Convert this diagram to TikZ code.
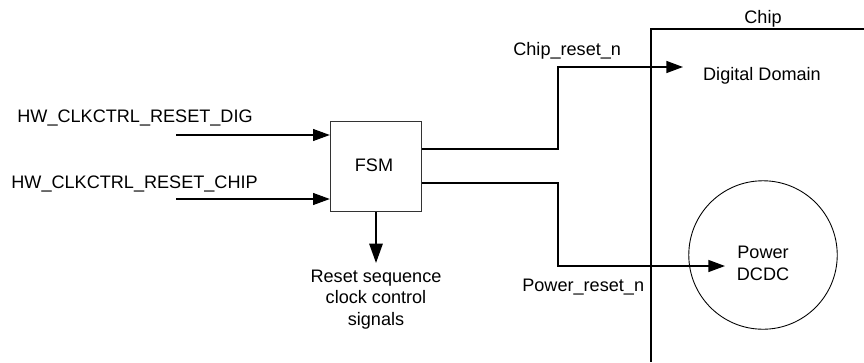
\documentclass[tikz,border=0pt]{standalone}
\usepackage{fontspec}
\setmainfont{Liberation Sans}
\usetikzlibrary{calc,arrows.meta,positioning}
\definecolor{ink}{HTML}{000000}
\definecolor{edge}{HTML}{333333}
\tikzset{
  wire/.style={draw=ink, line width=0.6pt},
  bus/.style={draw=ink, line width=1.0pt},
  tip/.style={-{Triangle[length=9.5pt,width=6.8pt]}},
  tipbig/.style={-{Triangle[length=11pt,width=7.6pt]}},
  blk/.style={draw=edge, line width=0.6pt, minimum width=52pt, minimum height=51.6pt, inner sep=0pt},
  ring/.style={circle, draw=ink, line width=0.5pt, minimum size=84.5pt, inner sep=0pt},
  lab/.style={font=\fontsize{10.3}{12.2}\selectfont, inner sep=0pt},
}
\begin{document}
\begin{tikzpicture}[x=0.02cm,y=-0.02cm]
  \useasboundingbox (0,0) rectangle (864,362);
  % chip outline
  \coordinate (chipR) at (864,29);
  \coordinate (chipTL) at (651,29);
  \coordinate (chipB) at (651,362);
  \draw[wire] (chipR) -- (chipTL) -- (chipB);
  \node[lab, anchor=base] (chip) at (763,23) {Chip};
  \node[lab, anchor=base] (dig) at (762,80) {Digital Domain};
  \node[ring] (dcdc) at (763,255) {};
  \node[lab, anchor=base, align=center] (dcdctxt) at (763,280) {Power\\DCDC};
  % fsm and inputs
  \node[blk, lab] (fsm) at (376,166.5) {};
  \node[lab, anchor=base] (fsmtxt) at (374,171) {FSM};
  \node[lab, anchor=base west] (rdig) at (17,122) {HW\_CLKCTRL\_RESET\_DIG};
  \node[lab, anchor=base west] (rchip) at (11,188) {HW\_CLKCTRL\_RESET\_CHIP};
  \coordinate (inA) at (176,135);
  \coordinate (inB) at (176,199);
  \draw[wire, tip] (inA) -- (inA -| fsm.west);
  \draw[wire, tip] (inB) -- (inB -| fsm.west);
  % outputs
  \coordinate (jA) at (558,67);
  \coordinate (jB) at (558,266);
  \coordinate (dtip) at (683,67);
  \coordinate (ptip) at (725,266);
  \draw[bus, line width=0.9pt, tip] (fsm.east |- 0,149) -| (jA) -- (dtip);
  \draw[bus, line width=0.9pt, tip] (fsm.east |- 0,183) -| (jB) -- (ptip);
  \node[lab, anchor=base west] (crst) at (513,55) {Chip\_reset\_n};
  \node[lab, anchor=base west] (prst) at (522,291) {Power\_reset\_n};
  % reset sequence
  \node[lab, anchor=base, align=center] (seq) at (376,325) {Reset sequence\\clock control\\signals};
  \coordinate (seqtip) at (376,263);
  \draw[bus, tipbig] (fsm.south -| seqtip) -- (seqtip);
\end{tikzpicture}
\end{document}
